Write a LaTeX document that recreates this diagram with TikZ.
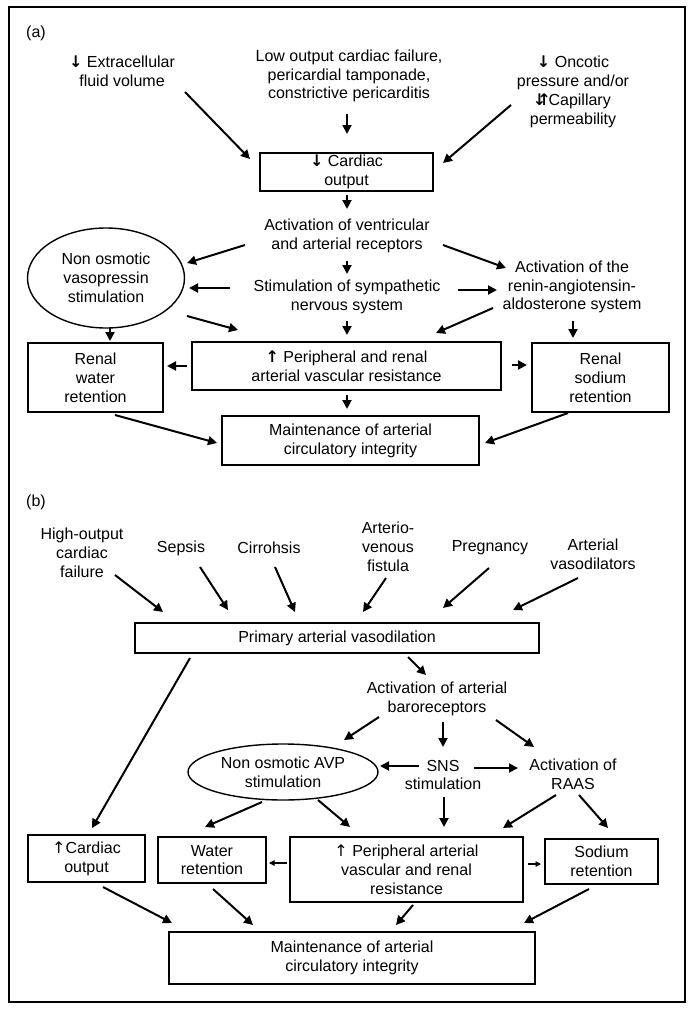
\documentclass[tikz,border=0pt]{standalone}
\usepackage{fontspec}
\setmainfont{Liberation Sans}
\newfontfamily\symf{DejaVu Sans}
\usetikzlibrary{arrows.meta,shapes.geometric}
\newcommand{\dnar}{{\symf\bfseries ↓}}
\newcommand{\upbar}{{\symf\bfseries ↑}}
\newcommand{\upar}{{\symf ↑}}
\newcommand{\updnar}{{\symf\bfseries ⇵}}
\begin{document}
\begin{tikzpicture}[x=1pt,y=-1pt,
  txt/.style={align=center,font=\fontsize{16}{18.8}\selectfont,inner sep=0pt},
  box/.style={txt,draw,line width=1.4pt},
  arr/.style={line width=2pt,-{Triangle[length=9pt,width=9pt]}},
  thinarr/.style={line width=1.1pt,-{Triangle[length=5.5pt,width=5.5pt]}}]
\useasboundingbox (0,0) rectangle (692,1012);
\draw[line width=1.3pt] (9,7) rectangle (685,1002);

% ---------- panel (a) ----------
\node[txt] (la) at (36,33) {(a)};
\node[txt] (ext) at (122,71) {\dnar{} Extracellular\\fluid volume};
\node[txt] (low) at (349,76) {Low output cardiac failure,\\pericardial tamponade,\\constrictive pericarditis};
\node[txt] (onc) at (573,92) {\dnar{} Oncotic\\pressure and/or\\\updnar{}Capillary\\permeability};
\node[box,minimum width=173pt,minimum height=38pt] (co) at (346.5,172) {\dnar{} Cardiac\\output};
\node[txt] (act) at (347,236) {Activation of ventricular\\and arterial receptors};
\node[txt,draw,ellipse,line width=1.4pt,minimum width=157pt,minimum height=100pt] (vaso) at (106,278) {Non osmotic\\vasopressin\\stimulation};
\node[txt] (sns) at (347,297) {Stimulation of sympathetic\\nervous system};
\node[txt] (raas) at (572,287) {Activation of the\\renin-angiotensin-\\aldosterone system};
\node[box,minimum width=309pt,minimum height=48pt] (ppr) at (346.5,366) {\upbar{} Peripheral and renal\\arterial vascular resistance};
\node[box,minimum width=135pt,minimum height=69pt] (rwr) at (95.5,377.5) {Renal\\water\\retention};
\node[box,minimum width=137pt,minimum height=69pt] (srt) at (600.5,377.5) {Renal\\sodium\\retention};
\node[box,minimum width=257pt,minimum height=49pt] (mai) at (350.5,440.5) {Maintenance of arterial\\circulatory integrity};

\coordinate (a1s) at (185,92);  \coordinate (a1e) at (250,159);
\coordinate (a2s) at (347,114); \coordinate (a2e) at (347,134);
\coordinate (a3s) at (511,105); \coordinate (a3e) at (443,163);
\coordinate (a4s) at (347,195); \coordinate (a4e) at (347,209);
\coordinate (a5s) at (245,245); \coordinate (a5e) at (187,263);
\coordinate (a6s) at (347,261); \coordinate (a6e) at (347,274);
\coordinate (a7s) at (230,288); \coordinate (a7e) at (189,288);
\coordinate (a8s) at (187,316); \coordinate (a8e) at (238,330);
\coordinate (a9s) at (347,321); \coordinate (a9e) at (347,335);
\coordinate (a10s) at (443,245); \coordinate (a10e) at (506,268);
\coordinate (a11s) at (458,290); \coordinate (a11e) at (497,290);
\coordinate (a12s) at (493,308); \coordinate (a12e) at (436,333);
\coordinate (a13s) at (573,321); \coordinate (a13e) at (573,338);
\coordinate (a14s) at (110,328); \coordinate (a14e) at (110,341);
\coordinate (a15s) at (187,366); \coordinate (a15e) at (167,366);
\coordinate (a16s) at (512,365); \coordinate (a16e) at (527,365);
\coordinate (a17s) at (347,395); \coordinate (a17e) at (347,409);
\coordinate (a18s) at (115,415); \coordinate (a18e) at (217,443);
\coordinate (a19s) at (568,413); \coordinate (a19e) at (485,443);
\foreach \i in {1,...,19} \draw[arr] (a\i s) -- (a\i e);

% ---------- panel (b) ----------
\node[txt] (lb) at (36,502) {(b)};
\node[txt] (hof) at (82,553) {High-output\\cardiac\\failure};
\node[txt] (sep) at (181,548) {Sepsis};
\node[txt] (cir) at (269,548) {Cirrohsis};
\node[txt] (avf) at (388,547) {Arterio-\\venous\\fistula};
\node[txt] (preg) at (490,548) {Pregnancy};
\node[txt] (avd) at (593,554) {Arterial\\vasodilators};
\node[box,minimum width=404pt,minimum height=30pt] (pav) at (337,638) {Primary arterial vasodilation};
\node[txt] (baro) at (437,699) {Activation of arterial\\baroreceptors};
\node[txt,draw,ellipse,line width=1.4pt,minimum width=190pt,minimum height=56pt,inner sep=0pt] (avp) at (283,772) {Non osmotic AVP\\stimulation};
\node[txt] (snsb) at (443,775) {SNS\\stimulation};
\node[txt] (raasb) at (573,774) {Activation of\\RAAS};
\node[box,minimum width=117pt,minimum height=47pt] (cob) at (86.5,858.5) {\upar{}Cardiac\\output};
\node[box,minimum width=108pt,minimum height=46pt] (wat) at (212,860) {Water\\retention};
\node[box,minimum width=233pt,minimum height=65pt] (pprb) at (406.5,869.5) {\upar{} Peripheral arterial\\vascular and renal\\resistance};
\node[box,minimum width=113pt,minimum height=45pt] (sod) at (601.5,861.5) {Sodium\\retention};
\node[box,minimum width=366pt,minimum height=52pt] (maib) at (352,958) {Maintenance of arterial\\circulatory integrity};

\coordinate (b1s) at (115,575);  \coordinate (b1e) at (163,612);
\coordinate (b2s) at (200,567);  \coordinate (b2e) at (228,610);
\coordinate (b3s) at (275,567);  \coordinate (b3e) at (295,612);
\coordinate (b4s) at (386,578);  \coordinate (b4e) at (363,612);
\coordinate (b5s) at (489,568);  \coordinate (b5e) at (443,608);
\coordinate (b6s) at (578,578);  \coordinate (b6e) at (513,610);
\coordinate (b7s) at (190,658);  \coordinate (b7e) at (92,828);
\coordinate (b8s) at (408,657);  \coordinate (b8e) at (426,675);
\coordinate (b9s) at (379,717);  \coordinate (b9e) at (344,740);
\coordinate (b10s) at (443,722); \coordinate (b10e) at (443,747);
\coordinate (b11s) at (496,720); \coordinate (b11e) at (534,747);
\coordinate (b12s) at (419,766); \coordinate (b12e) at (380,766);
\coordinate (b13s) at (474,768); \coordinate (b13e) at (518,768);
\coordinate (b14s) at (556,795); \coordinate (b14e) at (503,828);
\coordinate (b15s) at (579,795); \coordinate (b15e) at (608,828);
\coordinate (b16s) at (444,797); \coordinate (b16e) at (444,827);
\coordinate (b17s) at (262,802); \coordinate (b17e) at (205,827);
\coordinate (b18s) at (318,800); \coordinate (b18e) at (350,827);
\coordinate (b19s) at (103,887); \coordinate (b19e) at (172,923);
\coordinate (b20s) at (213,889); \coordinate (b20e) at (253,925);
\coordinate (b21s) at (413,905); \coordinate (b21e) at (396,925);
\coordinate (b22s) at (589,889); \coordinate (b22e) at (524,923);
\foreach \i in {1,...,22} \draw[arr] (b\i s) -- (b\i e);
\coordinate (t1s) at (287,863); \coordinate (t1e) at (269,863);
\coordinate (t2s) at (528,864); \coordinate (t2e) at (541,864);
\draw[thinarr] (t1s) -- (t1e);
\draw[thinarr] (t2s) -- (t2e);
\end{tikzpicture}
\end{document}
